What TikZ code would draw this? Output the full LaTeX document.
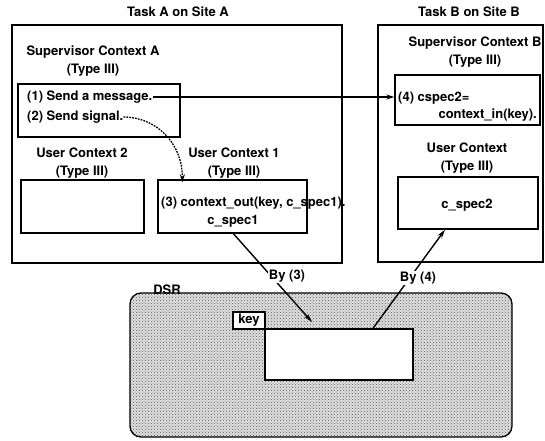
\documentclass[tikz,border=0pt]{standalone}
\usepackage{fontspec}
\setmainfont{TeX Gyre Heros}
\usetikzlibrary{arrows.meta,patterns}
\begin{document}
\begin{tikzpicture}[x=1pt,y=-1pt,
  font=\fontsize{13}{18}\selectfont\bfseries,
  frame/.style={draw, line width=1.3pt, inner sep=0pt},
  txt/.style={inner sep=0pt, align=center},
  link/.style={line width=1.4pt, -{Stealth[length=9pt,width=5pt]}}]
\useasboundingbox (0,0) rectangle (545,440);

% task frames
\node[frame, minimum width=330pt, minimum height=238pt] (taskA) at (177,144) {};
\node[frame, minimum width=165pt, minimum height=237pt] (taskB) at (460.5,143.5) {};
\node[txt] (titleA) at (178,12) {Task A on Site A};
\node[txt] (titleB) at (469,12) {Task B on Site B};

% supervisor contexts
\node[txt] (supAlbl) at (93,61) {Supervisor Context A\\(Type III)};
\node[frame, minimum width=162pt, minimum height=53pt] (supA) at (99,110.5) {};
\node[txt, anchor=west] (msg) at (27,97) {(1) Send a message.};
\node[txt, anchor=west] (sig) at (27,117) {(2) Send signal.};

\node[txt] (supBlbl) at (475,52) {Supervisor Context B\\(Type III)};
\node[frame, minimum width=145pt, minimum height=50pt] (supB) at (467.5,100) {};
\node[txt, anchor=west] (cin1) at (398,98) {(4) cspec2=};
\node[txt, anchor=east] (cin2) at (537,115) {context\_in(key).};

% user contexts
\node[txt] (uc2lbl) at (82,163) {User Context 2\\(Type III)};
\node[frame, minimum width=123pt, minimum height=53pt] (uc2) at (82.5,206.5) {};
\node[txt] (uc1lbl) at (234,163) {User Context 1\\(Type III)};
\node[frame, minimum width=149pt, minimum height=53pt] (uc1) at (232.5,206.5) {};
\node[txt, anchor=west] (ctxout) at (161,203) {(3) context\_out(key, c\_spec1).};
\node[txt] (cspec1) at (233,221) {c\_spec1};

\node[txt] (ucBlbl) at (467,158) {User Context\\(Type III)};
\node[frame, minimum width=140pt, minimum height=52pt] (ucB) at (468,203) {};
\node[txt] (cspec2) at (467,205) {c\_spec2};

% shared region
\node[frame, rounded corners=11pt, preaction={fill=black!12}, pattern=crosshatch dots,
      pattern color=black!65, minimum width=382pt, minimum height=144pt] (dsr) at (321,365) {};
\node[txt, anchor=base] (dsrlbl) at (167,294) {DSR};
\node[frame, fill=white, minimum width=148pt, minimum height=51pt] (slot) at (339,354.5) {};
\node[frame, fill=white, minimum width=32pt, minimum height=17pt] (key) at (249,320.5) {key};

% message and signal
\draw[line width=1.3pt, -{Stealth[length=8pt,width=5pt]}] (msg.east) -- (supB.west |- msg.east);
\draw[line width=1.3pt, dash pattern=on 1.8pt off 1.1pt, -{Stealth[length=8pt,width=5pt]}]
  (sig.east) .. controls +(32,0) and +(0,-40) .. ([xshift=25pt,yshift=-3pt]uc1.north west);

% transfers through the shared region
\coordinate (in3) at (312,322);
\draw[link] ([yshift=-6pt]cspec1.south) -- (in3);
\node[txt, fill=white, inner sep=1pt] (by3) at (287,276) {By (3)};
\draw[link] ([xshift=34pt]slot.north) -- ([xshift=-23pt]ucB.south);
\node[txt, fill=white, inner sep=1pt] (by4) at (418,278) {By (4)};
\end{tikzpicture}
\end{document}
